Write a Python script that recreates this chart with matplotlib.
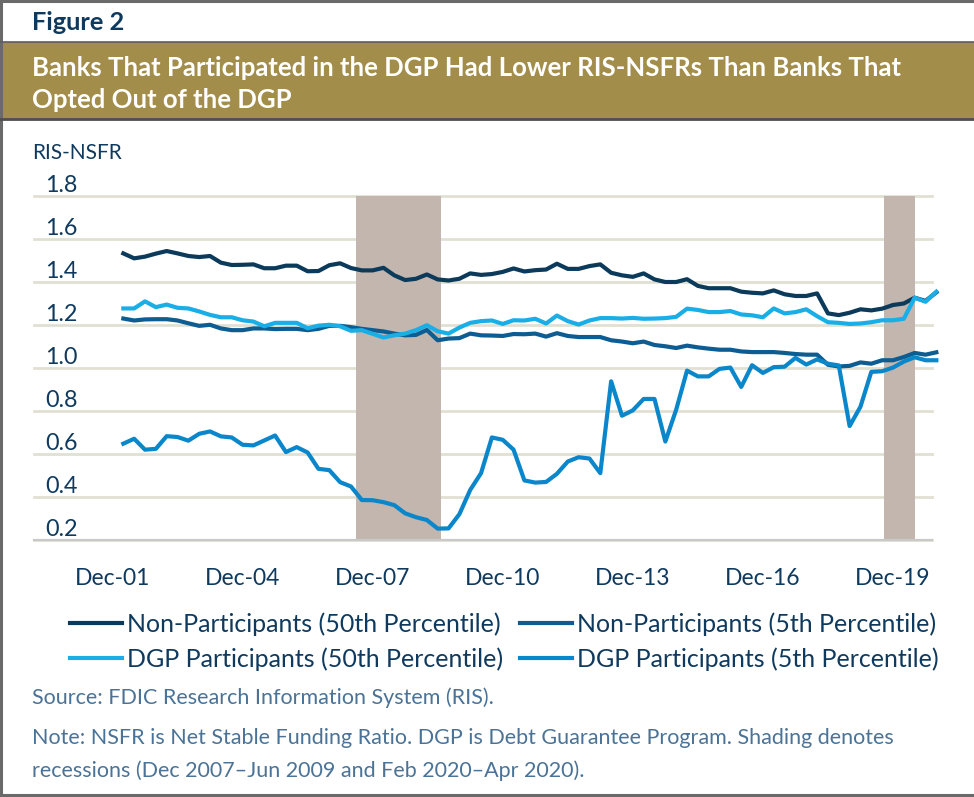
import numpy as np
import pandas as pd
import matplotlib
matplotlib.use("Agg")
import matplotlib.pyplot as plt
from matplotlib.patches import Rectangle
from matplotlib.lines import Line2D

plt.rcParams['font.family'] = ['Lato', 'DejaVu Sans']

# ---------------- data ----------------
quarters = pd.period_range('2002Q1', '2020Q4', freq='Q')

non_part_50 = [1.533, 1.510, 1.518, 1.532, 1.544, 1.533, 1.521, 1.516, 1.521, 1.490,
               1.479, 1.480, 1.482, 1.464, 1.464, 1.476, 1.476, 1.450, 1.451, 1.478,
               1.487, 1.465, 1.454, 1.454, 1.466, 1.431, 1.409, 1.415, 1.435, 1.412,
               1.407, 1.415, 1.440, 1.433, 1.437, 1.447, 1.463, 1.449, 1.455, 1.458,
               1.485, 1.461, 1.461, 1.474, 1.482, 1.443, 1.431, 1.424, 1.440, 1.412,
               1.400, 1.400, 1.413, 1.382, 1.371, 1.371, 1.371, 1.355, 1.350, 1.347,
               1.361, 1.343, 1.335, 1.335, 1.347, 1.254, 1.246, 1.257, 1.273, 1.268,
               1.276, 1.293, 1.300, 1.327, 1.312, 1.352]

non_part_5 = [1.230, 1.221, 1.226, 1.227, 1.227, 1.221, 1.208, 1.196, 1.201, 1.184,
              1.176, 1.176, 1.184, 1.184, 1.181, 1.182, 1.182, 1.176, 1.182, 1.196,
              1.196, 1.190, 1.182, 1.176, 1.170, 1.160, 1.152, 1.154, 1.177, 1.129,
              1.137, 1.139, 1.160, 1.152, 1.151, 1.149, 1.158, 1.157, 1.160, 1.146,
              1.162, 1.149, 1.144, 1.144, 1.144, 1.129, 1.123, 1.115, 1.123, 1.107,
              1.101, 1.093, 1.104, 1.096, 1.090, 1.085, 1.085, 1.077, 1.074, 1.074,
              1.074, 1.070, 1.065, 1.062, 1.062, 1.015, 1.007, 1.010, 1.026, 1.020,
              1.036, 1.036, 1.051, 1.070, 1.062, 1.073]

dgp_50 = [1.277, 1.277, 1.310, 1.283, 1.295, 1.280, 1.277, 1.263, 1.247, 1.236,
          1.236, 1.222, 1.216, 1.194, 1.210, 1.210, 1.210, 1.185, 1.197, 1.201,
          1.194, 1.173, 1.176, 1.159, 1.142, 1.152, 1.160, 1.176, 1.199, 1.171,
          1.160, 1.188, 1.210, 1.218, 1.221, 1.205, 1.222, 1.221, 1.229, 1.207,
          1.244, 1.218, 1.202, 1.221, 1.232, 1.232, 1.230, 1.233, 1.229, 1.230,
          1.232, 1.238, 1.276, 1.270, 1.260, 1.260, 1.265, 1.249, 1.245, 1.236,
          1.277, 1.254, 1.260, 1.273, 1.241, 1.213, 1.210, 1.205, 1.207, 1.213,
          1.222, 1.222, 1.229, 1.327, 1.308, 1.355]

dgp_5 = [0.648, 0.671, 0.620, 0.624, 0.683, 0.679, 0.662, 0.694, 0.705, 0.682,
         0.677, 0.643, 0.640, 0.663, 0.686, 0.609, 0.632, 0.607, 0.531, 0.525,
         0.469, 0.449, 0.386, 0.385, 0.376, 0.362, 0.324, 0.306, 0.293, 0.253,
         0.254, 0.320, 0.433, 0.511, 0.677, 0.666, 0.620, 0.477, 0.467, 0.470,
         0.508, 0.565, 0.585, 0.579, 0.511, 0.938, 0.778, 0.803, 0.856, 0.856,
         0.658, 0.806, 0.988, 0.961, 0.961, 0.996, 1.002, 0.912, 1.013, 0.977,
         1.004, 1.006, 1.047, 1.016, 1.040, 1.020, 1.012, 0.730, 0.820, 0.982,
         0.985, 1.002, 1.030, 1.050, 1.036, 1.036]

series_labels = ["Non-Participants (50th Percentile)", "Non-Participants (5th Percentile)",
                 "DGP Participants (50th Percentile)", "DGP Participants (5th Percentile)"]
series_colors = ["#0b3a5b", "#0d5c92", "#1aaee6", "#0a86ca"]

tick_years = [2001, 2004, 2007, 2010, 2013, 2016, 2019]
y_ticks = [0.2, 0.4, 0.6, 0.8, 1.0, 1.2, 1.4, 1.6, 1.8]
# recession shading in quarter-index units (as drawn in the source)
recession_spans = [(21.5, 29.3), (70.2, 73.0)]

# ---------------- figure ----------------
W, H = 974, 797
fig = plt.figure(figsize=(W / 100, H / 100), dpi=100)
navy = "#0f3a5e"
note_col = "#4a7397"

def fx(px):
    return px / W

def fy(py):
    return 1 - py / H

# border (left, top, bottom)
for xs, ys in [([1, 1], [0, H - 1]), ([0, W], [1, 1]), ([0, W], [H - 2, H - 2])]:
    fig.add_artist(Line2D([fx(v) for v in xs], [fy(v) for v in ys],
                          color="#6a6a6a", lw=2.2, transform=fig.transFigure))

fig.text(fx(32), fy(22), "Figure 2", fontsize=18.3, fontweight="bold",
         color=navy, va="center", ha="left")

# banner
fig.add_artist(Rectangle((0, fy(119)), 1, (119 - 42) / H, transform=fig.transFigure,
                         facecolor="#a38d4b", edgecolor="none"))
fig.add_artist(Line2D([0, 1], [fy(42), fy(42)], color="#5e5e5e", lw=1.2,
                      transform=fig.transFigure))
fig.add_artist(Line2D([0, 1], [fy(119), fy(119)], color="#4e4e4e", lw=2,
                      transform=fig.transFigure))
fig.text(fx(32), fy(68), "Banks That Participated in the DGP Had Lower RIS-NSFRs Than Banks That",
         fontsize=18.5, fontweight="bold", color="white", va="center", ha="left")
fig.text(fx(32), fy(100), "Opted Out of the DGP",
         fontsize=18.5, fontweight="bold", color="white", va="center", ha="left")

fig.text(fx(32), fy(153), "RIS-NSFR", fontsize=15, color=navy, va="center", ha="left")

# axes
ax = fig.add_axes([fx(34), fy(540), (932 - 34) / W, (540 - 196) / H])
x = np.arange(len(quarters))

for s, e in recession_spans:
    ax.axvspan(s, e, color="#c2b6ae", lw=0, zorder=1)

all_series = [non_part_50, non_part_5, dgp_50, dgp_5]
handles = []
for vals, col, lab in zip(all_series, series_colors, series_labels):
    h, = ax.plot(x, vals, color=col, lw=3.0, label=lab, clip_on=False, zorder=3,
                 solid_joinstyle="round")
    handles.append(h)

ax.set_xlim(-8.24, 74.6)
ax.set_ylim(0.2, 1.8)

ax.set_yticks(y_ticks)
ax.set_yticklabels([f"{v:.1f}" for v in y_ticks])
ax.yaxis.grid(True, color="#e1e0d3", lw=2, zorder=0)
for gl in ax.get_ygridlines():
    gl.set_clip_on(False)
ax.set_axisbelow(True)
ax.tick_params(axis="y", length=0, pad=-8, labelsize=16.8, labelcolor=navy)
plt.setp(ax.get_yticklabels(), ha="left", va="bottom")

ax.set_xticks([(yr - 2002) * 4 + 3 for yr in tick_years])
ax.set_xticklabels([f"Dec-{yr % 100:02d}" for yr in tick_years])
ax.tick_params(axis="x", length=0, pad=20, labelsize=16.5, labelcolor=navy)

for side in ["top", "right", "left"]:
    ax.spines[side].set_visible(False)
ax.spines["bottom"].set_color("#c9c9c9")
ax.spines["bottom"].set_linewidth(1.6)
ax.spines["bottom"].set_zorder(2)

# legends: two columns
leg_kw = dict(frameon=False, fontsize=18, handlelength=2.08, handletextpad=0.2,
              borderpad=0, borderaxespad=0, labelspacing=0.46, loc="upper left",
              labelcolor=navy)
fig.legend([handles[0], handles[2]], [series_labels[0], series_labels[2]],
           bbox_to_anchor=(fx(70), fy(612)), **leg_kw)
fig.legend([handles[1], handles[3]], [series_labels[1], series_labels[3]],
           bbox_to_anchor=(fx(520), fy(612)), **leg_kw)

fig.text(fx(32), fy(698), "Source: FDIC Research Information System (RIS).",
         fontsize=15.5, color=note_col, va="center", ha="left")
fig.text(fx(32), fy(738),
         "Note: NSFR is Net Stable Funding Ratio. DGP is Debt Guarantee Program. Shading denotes",
         fontsize=15.5, color=note_col, va="center", ha="left")
fig.text(fx(32), fy(771), "recessions (Dec 2007\u2013Jun 2009 and Feb 2020\u2013Apr 2020).",
         fontsize=15.5, color=note_col, va="center", ha="left")

fig.savefig("out.png", dpi=100)
